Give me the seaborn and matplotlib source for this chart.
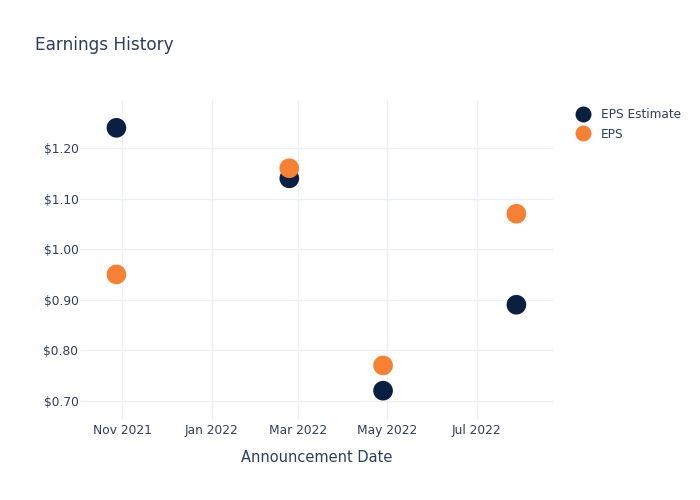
import matplotlib
matplotlib.use("Agg")
import matplotlib.pyplot as plt
import matplotlib.dates as mdates
from matplotlib.ticker import FuncFormatter
import seaborn as sns
import pandas as pd

dates = ["2021-10-28", "2022-02-23", "2022-04-28", "2022-07-28"]
eps_estimate = [1.24, 1.14, 0.72, 0.89]
eps_actual = [0.95, 1.16, 0.77, 1.07]
series_names = ["EPS Estimate", "EPS"]
colors = ["#0b1f41", "#f68135"]

df = pd.DataFrame({
    "date": pd.to_datetime(dates * 2),
    "value": eps_estimate + eps_actual,
    "series": [series_names[0]] * len(dates) + [series_names[1]] * len(dates),
})

sns.set_theme(style="white")
plt.rcParams["font.family"] = ["DejaVu Sans"]
text_color = "#2a3f5f"
grid_color = "#ebf0f8"

fig = plt.figure(figsize=(7, 5), dpi=100)
ax = fig.add_axes([0.114, 0.16, 0.676, 0.64])

sns.scatterplot(data=df, x="date", y="value", hue="series", hue_order=series_names,
                palette=colors, s=200, linewidth=0, edgecolor="none", ax=ax, zorder=3)

ax.set_xlim(pd.Timestamp("2021-10-03"), pd.Timestamp("2022-08-22"))
ax.set_ylim(0.662, 1.295)
ax.set_yticks([0.7, 0.8, 0.9, 1.0, 1.1, 1.2])
ax.yaxis.set_major_formatter(FuncFormatter(lambda v, p: f"${v:.2f}"))
ax.xaxis.set_major_locator(mdates.MonthLocator(bymonth=[1, 3, 5, 7, 11]))
ax.xaxis.set_major_formatter(mdates.DateFormatter("%b %Y"))

ax.grid(True, color=grid_color, linewidth=1, zorder=0)
for s in ax.spines.values():
    s.set_visible(False)
ax.tick_params(axis="both", length=0, colors=text_color, labelsize=8.8)
ax.tick_params(axis="y", pad=1)
ax.tick_params(axis="x", pad=3)
ax.set_xlabel("Announcement Date", color=text_color, fontsize=10.5, labelpad=9)
ax.set_ylabel("")

fig.text(0.05, 0.911, "Earnings History", color=text_color, fontsize=12.2, va="center")

leg = ax.legend(loc="upper left", bbox_to_anchor=(1.027, 0.99), frameon=False,
                fontsize=8.7, labelcolor=text_color, handletextpad=0.5,
                markerscale=1.0, borderaxespad=0, labelspacing=0.55)
for h in leg.legend_handles:
    h.set_markersize(11.5)
    h.set_markeredgewidth(0)

fig.savefig("out.png", dpi=100)
